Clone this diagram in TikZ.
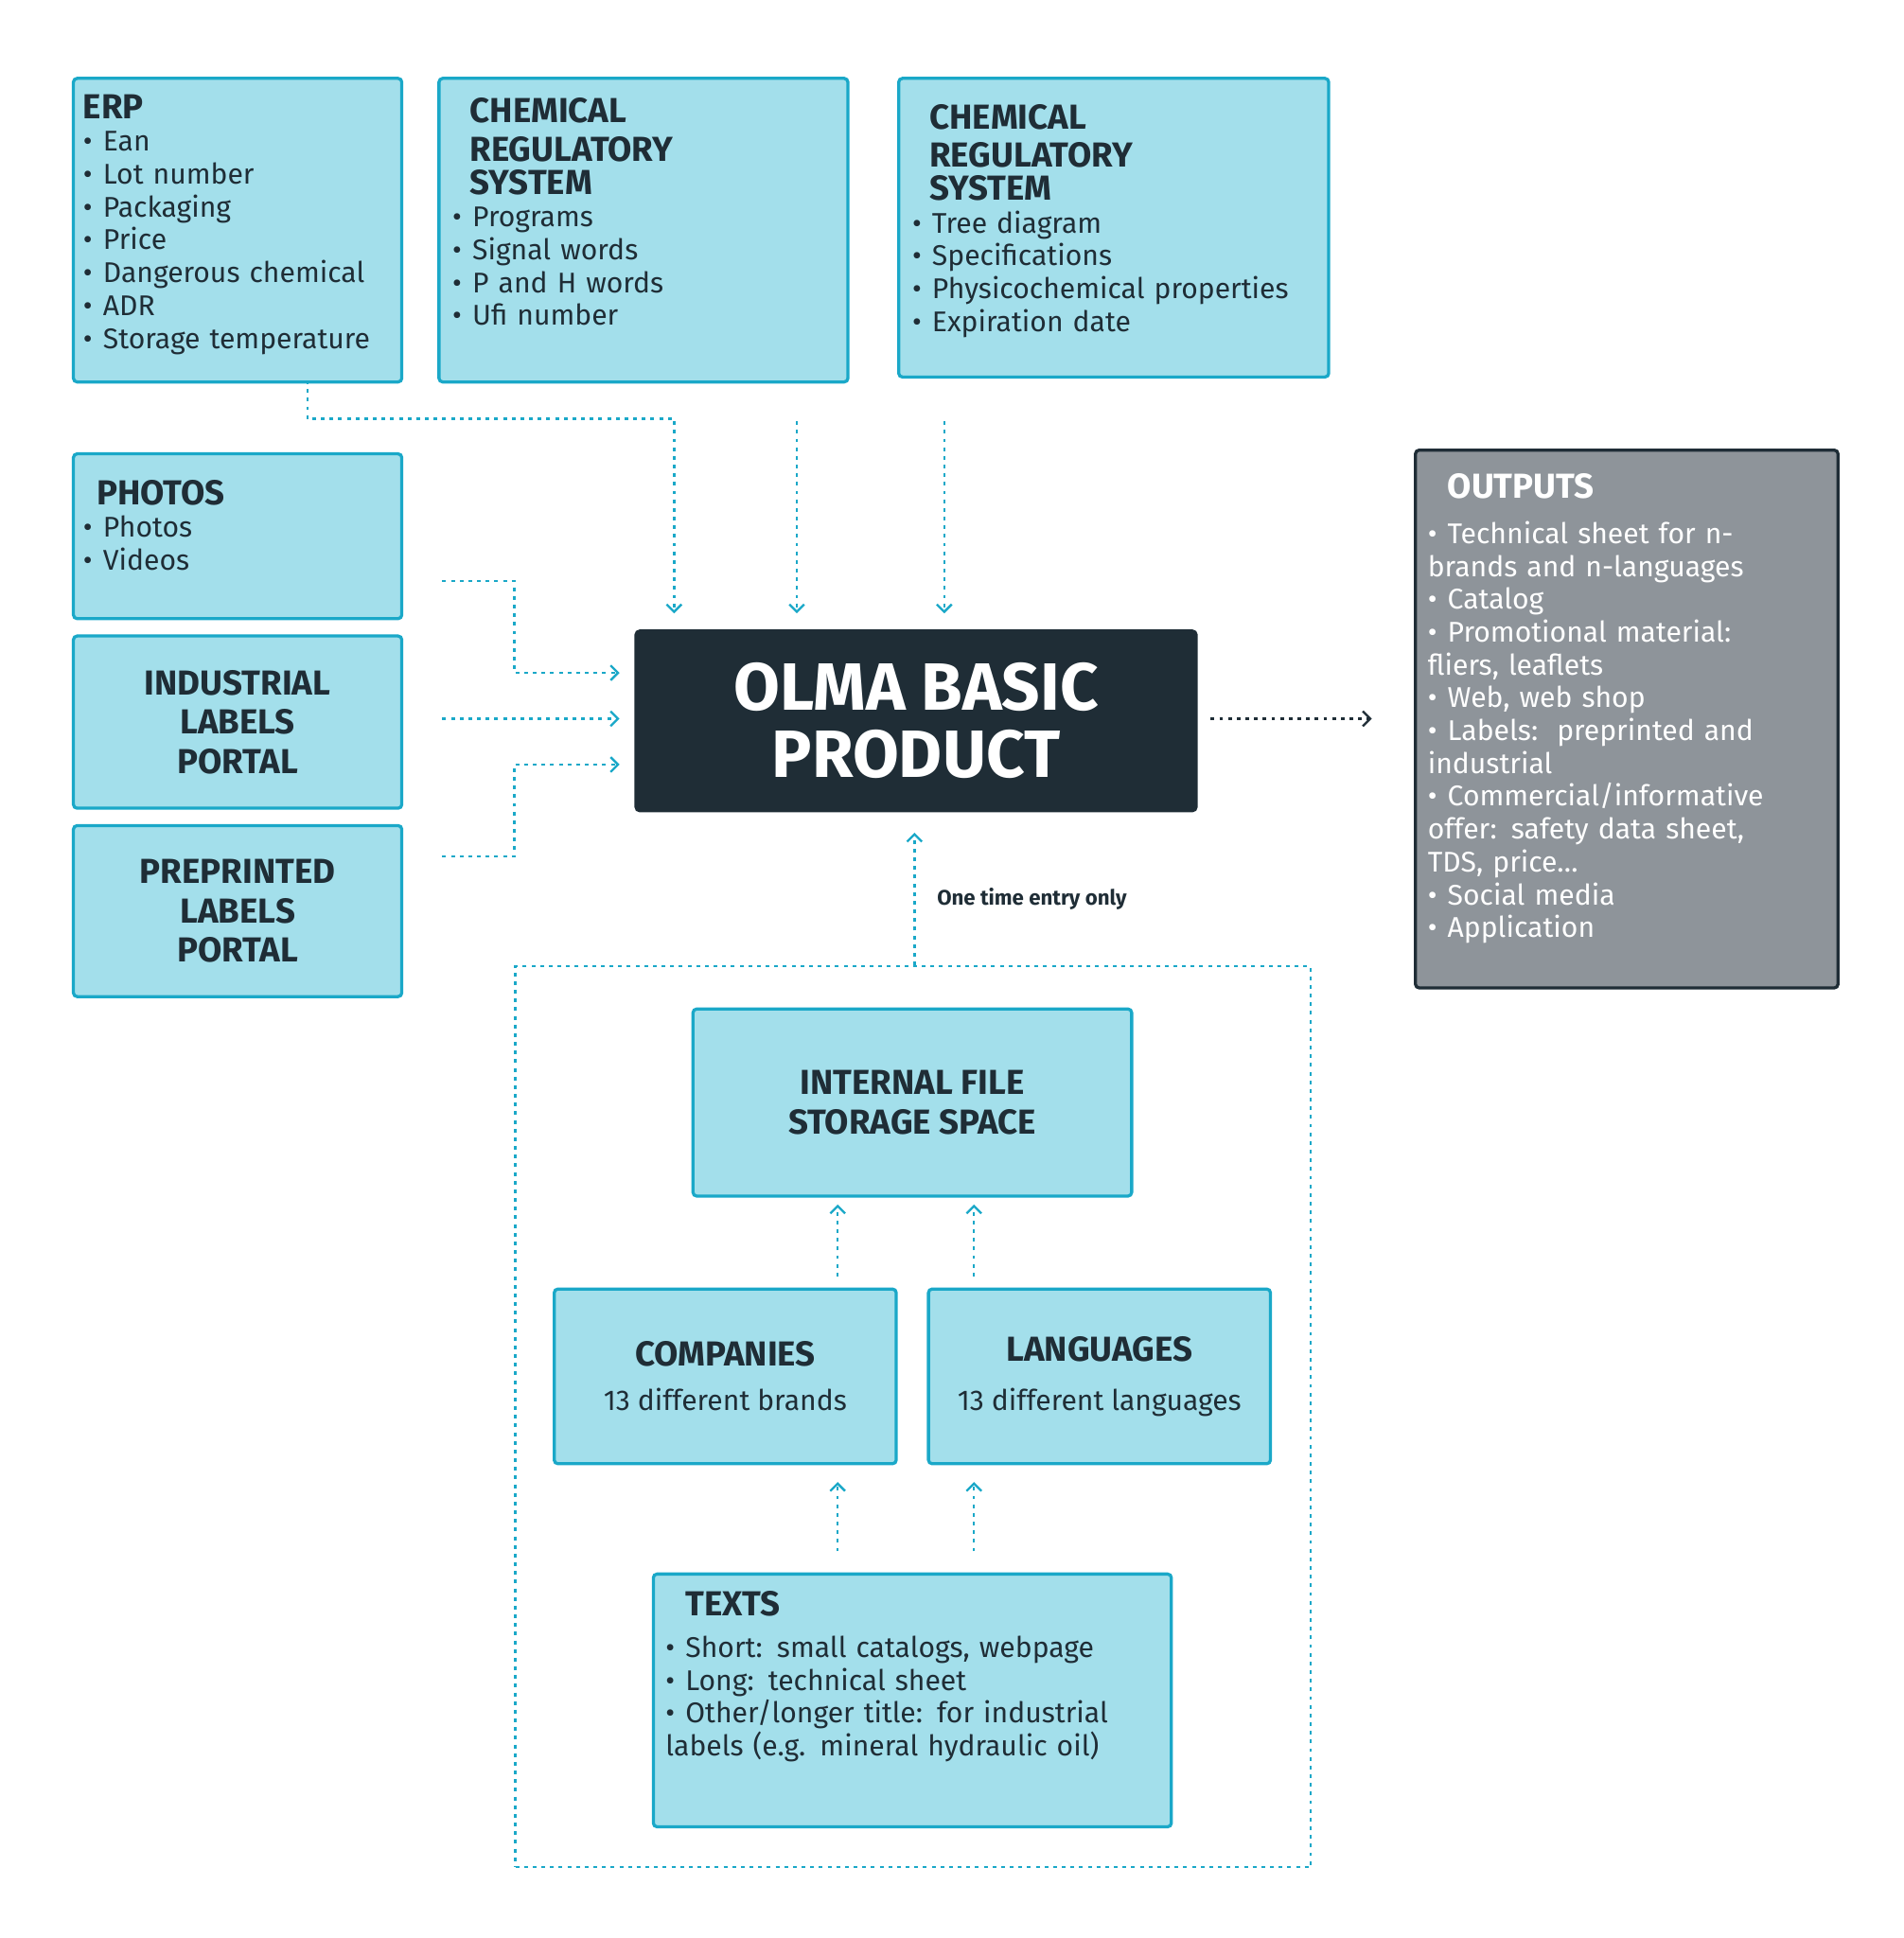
\documentclass[tikz,border=0pt]{standalone}
\usepackage{fontspec}
\setmainfont{Fira Sans}
\usetikzlibrary{arrows.meta,positioning}
\definecolor{boxfill}{HTML}{A3DFEB}
\definecolor{boxline}{HTML}{1AA8C8}
\definecolor{darkbox}{HTML}{1F2D36}
\definecolor{outfill}{HTML}{8E949A}
\newcommand{\itm}[1]{\par\hangindent=16pt\hangafter=1\makebox[16pt][l]{\textbullet}#1}
\newcommand{\ttl}[1]{{\bfseries\fontsize{28}{31}\selectfont #1}\par}
\tikzset{
  box/.style={draw=boxline,fill=boxfill,line width=2.5pt,rounded corners=3pt,anchor=north west,inner sep=0pt},
  txt/.style={anchor=north west,align=left,text=darkbox,font=\fontsize{23}{26.5}\selectfont,inner sep=0pt},
  ctr/.style={align=center,text=darkbox,font=\bfseries\fontsize{28}{31.5}\selectfont},
  flow/.style={draw=boxline,line width=1.8pt,dash pattern=on 3pt off 4pt,-{Straight Barb[length=6pt,width=12pt]}},
}
\begin{document}
\begin{tikzpicture}[x=1pt,y=-1pt]
\useasboundingbox (0,0) rectangle (1536,1564);
% input boxes
\node[box,minimum width=265pt,minimum height=245pt] (erp) at (58,62) {};
\node[txt,text width=260pt] at (67,76) {\ttl{ERP}\itm{Ean}\itm{Lot number}\itm{Packaging}\itm{Price}\itm{Dangerous chemical}\itm{ADR}\itm{Storage temperature}};
\node[box,minimum width=330pt,minimum height=245pt] (crs1) at (353,62) {};
\node[txt,text width=320pt] at (365,79) {\ttl{\hspace*{14pt}CHEMICAL\\\hspace*{14pt}REGULATORY\\\hspace*{14pt}SYSTEM}\itm{Programs}\itm{Signal words}\itm{P and H words}\itm{Ufi number}};
\node[box,minimum width=347pt,minimum height=241pt] (crs2) at (724,62) {};
\node[txt,text width=340pt] at (736,84) {\ttl{\hspace*{14pt}CHEMICAL\\\hspace*{14pt}REGULATORY\\\hspace*{14pt}SYSTEM}\itm{Tree diagram}\itm{Specifications}\itm{Physicochemical properties}\itm{Expiration date}};
\node[box,minimum width=265pt,minimum height=133pt] (photos) at (58,365) {};
\node[txt,text width=250pt] at (67,387) {\ttl{\hspace*{11pt}PHOTOS}\itm{Photos}\itm{Videos}};
\node[box,minimum width=265pt,minimum height=139pt] (indus) at (58,512) {};
\node[ctr] at (indus.center) {INDUSTRIAL\\LABELS\\PORTAL};
\node[box,minimum width=265pt,minimum height=138pt] (prepr) at (58,665) {};
\node[ctr] at (prepr.center) {PREPRINTED\\LABELS\\PORTAL};
% centre
\node[box,draw=darkbox,fill=darkbox,minimum width=452pt,minimum height=145pt] (olma) at (512,508) {};
\node[align=center,text=white,font=\bfseries\fontsize{54}{54}\selectfont] at (olma.center) {OLMA BASIC\\PRODUCT};
% outputs
\node[box,draw=darkbox,fill=outfill,minimum width=341pt,minimum height=434pt] (outs) at (1141,362) {};
\node[txt,text=white,text width=320pt] at (1152,382) {\ttl{\hspace*{16pt}OUTPUTS}\vspace{10pt}\itm{Technical sheet for n-\\brands and n-languages}\itm{Catalog}\itm{Promotional material:\\fliers, leaflets}\itm{Web, web shop}\itm{Labels:\ \ preprinted and\\industrial}\itm{Commercial/informative\\offer: safety data sheet,\\TDS, price\dots}\itm{Social media}\itm{Application}};
% storage block
\node[draw=boxline,line width=1.8pt,dash pattern=on 3pt off 4pt,minimum width=642pt,minimum height=727pt,anchor=north west,inner sep=0pt] (frame) at (415,779) {};
\node[box,minimum width=354pt,minimum height=151pt] (store) at (558,813) {};
\node[ctr] at (store.center) {INTERNAL FILE\\STORAGE SPACE};
\node[box,minimum width=276pt,minimum height=141pt] (comp) at (446,1039) {};
\node[align=center,text=darkbox,font=\fontsize{23}{36}\selectfont] at (comp.center) {{\bfseries\fontsize{28}{31}\selectfont COMPANIES}\\13 different brands};
\node[box,minimum width=276pt,minimum height=141pt] (lang) at (748,1039) {};
\node[align=center,text=darkbox,font=\fontsize{23}{40}\selectfont] at (lang.center) {{\bfseries\fontsize{28}{31}\selectfont LANGUAGES}\\13 different languages};
\node[box,minimum width=418pt,minimum height=204pt] (texts) at (526,1269) {};
\node[txt,text width=400pt] at (537,1284) {\ttl{\hspace*{16pt}TEXTS}\vspace{7pt}\itm{Short: small catalogs, webpage}\itm{Long: technical sheet}\itm{Other/longer title: for industrial\\labels (e.g. mineral hydraulic oil)}};
% connectors
\coordinate (erpout) at (248,307);
\coordinate (c1) at (643,340);
\coordinate (c2) at (762,340);
\draw[flow] (erpout) |- (544,338) -- (544,495);
\draw[flow] (c1) -- (c1 |- 0,495);
\draw[flow] (c2) -- (c2 |- 0,495);
\draw[flow] (357,469) -| (415,543) -- (500,543);
\draw[flow] (357,580) -- (500,580);
\draw[flow] (357,691) -| (415,617) -- (500,617);
\draw[flow,draw=darkbox] (977,580) -- (1107,580);
\draw[flow] (738,779) -- (738,672) node[pos=0.5,right=14pt,text=darkbox,font=\bfseries\fontsize{17}{20}\selectfont] {One time entry only};
\foreach \x in {676,786} {
  \draw[flow] (\x,1030) -- (\x,972);
  \draw[flow] (\x,1252) -- (\x,1196);
}
\end{tikzpicture}
\end{document}
